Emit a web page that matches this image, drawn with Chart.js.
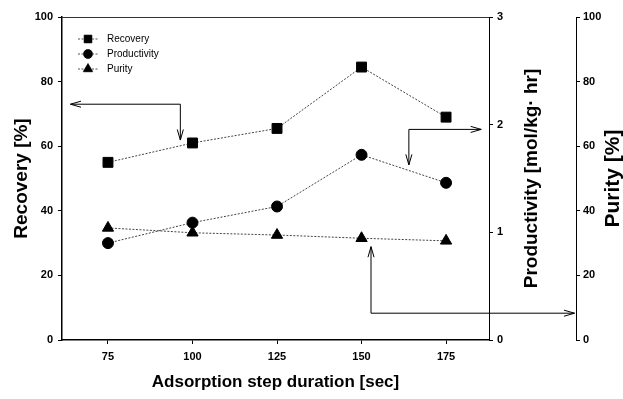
<!DOCTYPE html>
<html>
<head>
<meta charset="utf-8">
<script src="https://cdn.jsdelivr.net/npm/chart.js@4/dist/chart.umd.min.js"></script>
<style>
html,body{margin:0;padding:0;background:#fff}
#wrap{width:623px;height:399px}
</style>
</head>
<body>
<div id="wrap"><canvas id="chart"></canvas></div>
<script>
// values
const durations = [75, 100, 125, 150, 175];
const recovery = [55, 61, 65.5, 84.5, 69];
const productivity = [0.90, 1.09, 1.24, 1.72, 1.46];
const purity = [34.7, 33.2, 32.5, 31.5, 30.7];

const xTicks = [75, 100, 125, 150, 175];
const recoveryTicks = [0, 20, 40, 60, 80, 100];
const productivityTicks = [0, 1, 2, 3];
const purityTicks = [0, 20, 40, 60, 80, 100];

const seriesNames = ['Recovery', 'Productivity', 'Purity'];
const seriesStyles = ['rect', 'circle', 'triangle'];

// callout arrows, in x / recovery-axis units: [path, heads at start?, heads at end?]
const arrowPaths = [
  [[[63.9, 73], [96.4, 73], [96.4, 61.9]], true, true],
  [[[164.0, 54.2], [164.0, 65.2], [185.4, 65.2]], true, true],
  [[[152.8, 28.9], [152.8, 8.3], [213.0, 8.3]], true, true]
];

const FONT = '"Liberation Sans", Arial, sans-serif';
const tickFont = {family: FONT, size: 11, weight: 'bold'};

function useTicks(list){ return s => { s.ticks = list.map(v => ({value: v})); }; }

function arrowHead(ctx, x1, y1, x2, y2){
  const a = Math.atan2(y2 - y1, x2 - x1), L = 11, w = 0.28;
  ctx.beginPath();
  ctx.moveTo(x2 - L*Math.cos(a - w), y2 - L*Math.sin(a - w));
  ctx.lineTo(x2, y2);
  ctx.lineTo(x2 - L*Math.cos(a + w), y2 - L*Math.sin(a + w));
  ctx.stroke();
}

const extras = {
  id: 'extras',
  afterDraw(chart){
    const {ctx, chartArea: ca, scales} = chart;
    const sx = scales.x, sy = scales.y;
    ctx.save();
    // top frame line
    ctx.strokeStyle = '#333'; ctx.lineWidth = 1;
    ctx.beginPath(); ctx.moveTo(ca.left, ca.top + 0.5); ctx.lineTo(ca.right, ca.top + 0.5); ctx.stroke();

    // arrows
    ctx.strokeStyle = '#000'; ctx.lineWidth = 1;
    for (const [path, hs, he] of arrowPaths) {
      const p = path.map(([a, b]) => [sx.getPixelForValue(a), sy.getPixelForValue(b)]);
      ctx.beginPath();
      ctx.moveTo(p[0][0], p[0][1]);
      for (let i = 1; i < p.length; i++) ctx.lineTo(p[i][0], p[i][1]);
      ctx.stroke();
      if (hs) arrowHead(ctx, p[1][0], p[1][1], p[0][0], p[0][1]);
      if (he) arrowHead(ctx, p[p.length-2][0], p[p.length-2][1], p[p.length-1][0], p[p.length-1][1]);
    }

    // legend
    const lx = ca.left + 16, ly = ca.top + 22;
    seriesNames.forEach((name, i) => {
      const y = ly + i*15;
      ctx.strokeStyle = '#555'; ctx.setLineDash([2, 1.5]);
      ctx.beginPath(); ctx.moveTo(lx, y); ctx.lineTo(lx + 20, y); ctx.stroke();
      ctx.setLineDash([]);
      ctx.fillStyle = '#000';
      Chart.helpers.drawPoint(ctx, {pointStyle: seriesStyles[i], radius: [5.5, 4.5, 5.5][i], rotation: 0, borderWidth: 1}, lx + 10, y);
      ctx.fill();
      ctx.font = '10px ' + FONT; ctx.textAlign = 'left'; ctx.textBaseline = 'middle';
      ctx.fillText(name, lx + 29, y + 0.5);
    });

    // right axis titles, reading bottom to top
    const mid = (ca.top + ca.bottom) / 2;
    ctx.textAlign = 'center'; ctx.textBaseline = 'middle';
    ctx.fillStyle = '#000';
    [[scales.y1.left + 43, 'Productivity [mol/kg\u00b7 hr]', 19], [scales.y2.right - 10, 'Purity [%]', 21]].forEach(([x, t, size]) => {
      ctx.font = 'bold ' + size + 'px ' + FONT;
      ctx.save(); ctx.translate(x, mid); ctx.rotate(-Math.PI/2); ctx.fillText(t, 0, 0); ctx.restore();
    });
    ctx.restore();
  }
};

const axisGrid = {display: true, drawOnChartArea: false, drawTicks: true, tickLength: 4, color: '#000'};

new Chart(document.getElementById('chart'), {
  type: 'line',
  data: {
    datasets: [
      {label: seriesNames[0], data: durations.map((x, i) => ({x, y: recovery[i]})), yAxisID: 'y', pointStyle: 'rect', pointRadius: 7},
      {label: seriesNames[1], data: durations.map((x, i) => ({x, y: productivity[i]})), yAxisID: 'y1', pointStyle: 'circle', pointRadius: 5.5},
      {label: seriesNames[2], data: durations.map((x, i) => ({x, y: purity[i]})), yAxisID: 'y2', pointStyle: 'triangle', pointRadius: 6.5}
    ].map(d => Object.assign(d, {
      borderColor: '#444', borderWidth: 1, borderDash: [2, 1.5], tension: 0,
      pointBackgroundColor: '#000', pointBorderColor: '#000', pointBorderWidth: 1, clip: false
    }))
  },
  options: {
    responsive: true, maintainAspectRatio: false, animation: false, devicePixelRatio: 1,
    layout: {padding: {top: 17, left: 0, right: 0, bottom: 0}},
    plugins: {legend: {display: false}, tooltip: {enabled: false}},
    scales: {
      x: {
        type: 'linear', min: 61.4, max: 187.7,
        afterBuildTicks: useTicks(xTicks),
        afterFit: s => { s.height = 59; },
        grid: axisGrid, border: {color: '#000', width: 1.5},
        ticks: {font: tickFont, color: '#000', padding: 6},
        title: {display: true, text: 'Adsorption step duration [sec]', color: '#000',
          font: {family: FONT, size: 17, weight: 'bold'}, padding: {top: 0, bottom: 6}}
      },
      y: {
        position: 'left', min: 0, max: 100,
        afterBuildTicks: useTicks(recoveryTicks),
        afterFit: s => { s.width = 62; },
        grid: axisGrid, border: {color: '#000', width: 1.5},
        ticks: {font: tickFont, color: '#000', padding: 5},
        title: {display: true, text: 'Recovery [%]', color: '#000',
          font: {family: FONT, size: 19, weight: 'bold'}, padding: {top: 10, bottom: 0}}
      },
      y1: {
        position: 'right', weight: 0, min: 0, max: 3,
        afterBuildTicks: useTicks(productivityTicks),
        afterFit: s => { s.width = 87; },
        grid: axisGrid, border: {color: '#000', width: 1},
        ticks: {font: tickFont, color: '#000', padding: 4}
      },
      y2: {
        position: 'right', weight: 1, min: 0, max: 100,
        afterBuildTicks: useTicks(purityTicks),
        afterFit: s => { s.width = 47; },
        grid: axisGrid, border: {color: '#000', width: 1},
        ticks: {font: tickFont, color: '#000', padding: 3}
      }
    }
  },
  plugins: [extras]
});
</script>
</body>
</html>
